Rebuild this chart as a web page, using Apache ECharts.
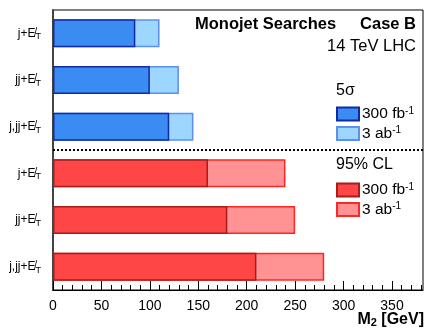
<!DOCTYPE html>
<html>
<head>
<meta charset="utf-8">
<script src="https://cdn.jsdelivr.net/npm/echarts@6/dist/echarts.min.js"></script>
<style>
  html, body { margin: 0; padding: 0; background: #fff; }
  #main { width: 433px; height: 335px; }
</style>
</head>
<body>
<div id="main"></div>
<script>
// rows, top to bottom
var rowKeys = ["b_j", "b_jj", "b_jjj", "r_j", "r_jj", "r_jjj"];
var rowLabels = ["j", "jj", "j,jj", "j", "jj", "j,jj"];

// 5 sigma discovery reach (GeV)
var disc300fb = [85, 100, 120, "-", "-", "-"];
var disc3ab = [110, 130, 145, "-", "-", "-"];
// 95% CL exclusion (GeV)
var excl300fb = ["-", "-", "-", 160, 180, 210];
var excl3ab = ["-", "-", "-", 240, 250, 280];

var majorTicks = [0, 50, 100, 150, 200, 250, 300, 350];
var minorTicks = [10, 20, 30, 40, 60, 70, 80, 90, 110, 120, 130, 140, 160, 170, 180, 190,
  210, 220, 230, 240, 260, 270, 280, 290, 310, 320, 330, 340, 360, 370, 380];
var xMax = 382;

var font = "Liberation Sans, Arial, sans-serif";
var myEchart = echarts.init(document.getElementById("main"));

var legendText = {
  padding: [0, 0, 0, -2],
  rich: {
    n: { fontSize: 15.5, lineHeight: 16, fontFamily: font, color: "#000" },
    s: { fontSize: 10, lineHeight: 10, fontFamily: font, color: "#000", verticalAlign: "top", padding: [0, 0, 6, 0] }
  }
};

var option = {
  animation: false,
  textStyle: { fontFamily: font, color: "#000" },
  title: [
    { text: "Monojet Searches", left: 190, top: 11, textStyle: { fontSize: 16.5, fontWeight: "bold", fontFamily: font, color: "#000" } },
    { text: "Case B", right: 12, top: 11, textStyle: { fontSize: 16.5, fontWeight: "bold", fontFamily: font, color: "#000" } },
    { text: "14 TeV LHC", right: 12, top: 33, textStyle: { fontSize: 16.5, fontWeight: "normal", fontFamily: font, color: "#000" } },
    { text: "5σ", left: 331, top: 78, textStyle: { fontSize: 16, fontWeight: "normal", fontFamily: font, color: "#000" } },
    { text: "95% CL", left: 331, top: 152, textStyle: { fontSize: 16, fontWeight: "normal", fontFamily: font, color: "#000" } },
    {
      // x axis title
      text: "{b|M}{s|2}{b| [GeV]}", right: 9, top: 311, padding: 0,
      textStyle: {
        rich: {
          b: { fontSize: 16, fontWeight: "bold", fontFamily: font, color: "#000" },
          s: { fontSize: 11, fontWeight: "bold", fontFamily: font, color: "#000", verticalAlign: "bottom", padding: [6, 0, 0, 0] }
        }
      }
    }
  ],
  legend: [
    {
      data: ["d300", "d3ab"],
      orient: "vertical",
      left: 331, top: 101,
      itemWidth: 22, itemHeight: 13, itemGap: 3.5,
      icon: "rect",
      formatter: function (n) { return n == "d300" ? "{n|300 fb}{s|-1}" : "{n|3 ab}{s|-1}"; },
      textStyle: legendText
    },
    {
      data: ["e300", "e3ab"],
      orient: "vertical",
      left: 331, top: 177,
      itemWidth: 22, itemHeight: 13, itemGap: 3.5,
      icon: "rect",
      formatter: function (n) { return n == "e300" ? "{n|300 fb}{s|-1}" : "{n|3 ab}{s|-1}"; },
      textStyle: legendText
    }
  ],
  grid: {
    left: 53, right: 10, top: 10, bottom: 45,
    containLabel: false, outerBoundsMode: "none",
    show: true, borderColor: "#000", borderWidth: 1, backgroundColor: "transparent"
  },
  xAxis: [
    {
      type: "value", min: 0, max: xMax, position: "bottom",
      axisLine: { show: true, onZero: false, lineStyle: { color: "#000", width: 1 } },
      axisTick: { show: true, inside: true, length: 9, customValues: majorTicks, lineStyle: { color: "#000" } },
      axisLabel: { customValues: majorTicks, fontSize: 14, color: "#000", margin: 9, fontFamily: font },
      splitLine: { show: false }
    },
    {
      type: "value", min: 0, max: xMax, position: "bottom",
      axisLine: { show: false, onZero: false },
      axisTick: { show: true, inside: true, length: 5, customValues: minorTicks, lineStyle: { color: "#000" } },
      axisLabel: { show: false },
      splitLine: { show: false }
    }
  ],
  yAxis: [
    {
      type: "category",
      data: rowKeys,
      inverse: true,
      axisLine: { show: true, onZero: false, lineStyle: { color: "#444", width: 2 } },
      axisTick: { show: false },
      axisLabel: {
        margin: 12,
        formatter: function (v, i) { return "{a|" + rowLabels[i] + "+E\u0338}{s|T}"; },
        rich: {
          a: { fontSize: 12, fontFamily: font, color: "#000" },
          s: { fontSize: 9, fontFamily: font, color: "#000", verticalAlign: "bottom", padding: [7, 0, 0, 0] }
        }
      },
      splitLine: { show: false }
    },
    {
      // hidden helper axis, only used to place the divider between the two groups
      type: "value", min: 0, max: rowKeys.length, inverse: true, show: false,
      axisLine: { onZero: false }
    }
  ],
  series: [
    { name: "d3ab", type: "bar", data: disc3ab, barWidth: 28, barGap: "-100%",
      itemStyle: { color: "#9dd6ff", borderColor: "#5b8ff2", borderWidth: 1.5 } },
    { name: "d300", type: "bar", data: disc300fb, barWidth: 28, barGap: "-100%",
      itemStyle: { color: "#3a8cf2", borderColor: "#1229a6", borderWidth: 1.5 } },
    { name: "e3ab", type: "bar", data: excl3ab, barWidth: 28, barGap: "-100%",
      itemStyle: { color: "#ff9292", borderColor: "#ff2626", borderWidth: 1.5 } },
    { name: "e300", type: "bar", data: excl300fb, barWidth: 28, barGap: "-100%",
      itemStyle: { color: "#ff4646", borderColor: "#a81c1c", borderWidth: 1.5 } },
    {
      name: "divider", type: "line", xAxisIndex: 0, yAxisIndex: 1, data: [],
      markLine: {
        silent: true, symbol: "none", animation: false,
        label: { show: false },
        lineStyle: { color: "#000", type: [2, 2], width: 2 },
        data: [{ yAxis: 3 }]
      }
    }
  ]
};
option && myEchart.setOption(option);
</script>
</body>
</html>
